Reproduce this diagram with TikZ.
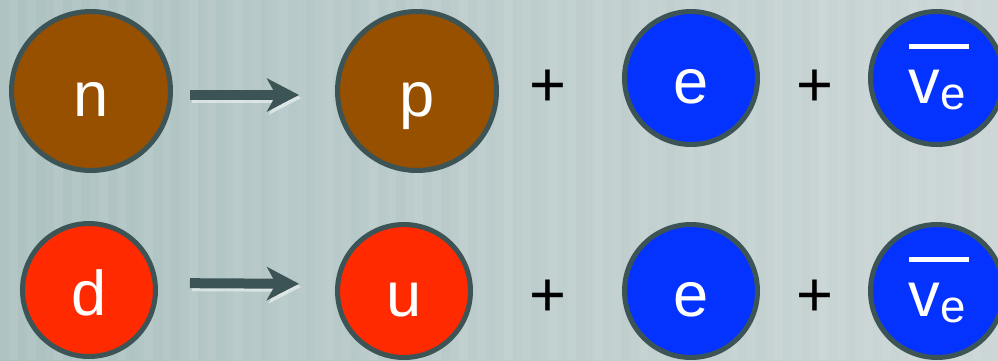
\documentclass[tikz,border=0pt]{standalone}
\usepackage{fontspec}
\setmainfont{Liberation Sans}
\usepackage{tikz}
\usetikzlibrary{calc,arrows.meta}
\usepackage{xcolor}
\definecolor{bgleft}{RGB}{172,193,193}
\definecolor{bgright}{RGB}{204,214,214}
\definecolor{rimgray}{RGB}{61,84,87}
\definecolor{neutronbrown}{RGB}{150,80,0}
\definecolor{quarkred}{RGB}{255,42,0}
\definecolor{leptonblue}{RGB}{4,51,255}

\begin{document}
\begin{tikzpicture}[x=0.02cm, y=-0.02cm,
    ball/.style={circle, draw=rimgray, line width=0.1cm, text=white, inner sep=0pt,
      font=\fontsize{36}{36}\selectfont, text height=1.0cm, text depth=0cm},
    bigball/.style={ball, minimum size=3.18cm},
    smallball/.style={ball, minimum size=2.66cm},
    plus/.style={font=\fontsize{36}{36}\selectfont, text=black, inner sep=0pt},
    reactarrow/.style={draw=rimgray, line width=0.2cm,
      -{Stealth[length=0.64cm, width=0.66cm, inset=0.18cm]}},
    bar/.style={white, line width=0.1cm}]
      \useasboundingbox (0,0) rectangle (998,360);
      % background with faint stripes
      \shade[left color=bgleft, right color=bgright] (0,0) rectangle (998,360);
      \foreach \x [count=\i] in {0,9,...,990} {
        \pgfmathsetmacro\op{mod(\i*7,5)/45}
        \fill[white, opacity=\op] (\x,0) rectangle ++(9,360);
      }
      % beta decay of the neutron
      \node[bigball, fill=neutronbrown] (n) at (91,91) {n};
      \node[bigball, fill=neutronbrown] (p) at (417,91) {p};
      \node[plus] (plus1) at (548,88) {+};
      \node[smallball, fill=leptonblue] (e1) at (691,78) {e};
      \node[plus] (plus2) at (815,88) {+};
      \node[smallball, fill=leptonblue] (nu1) at (937,78)
        {v{\fontsize{26}{26}\selectfont\raisebox{-0.15em}{e}}};
      \draw[bar] ($(nu1.center)+(-28,-32)$) -- ++(60,0);
      \draw[reactarrow, draw=white, opacity=0.5, shorten <=0.38cm, shorten >=0.68cm]
        ([yshift=-0.14cm]n.east) -- ([yshift=-0.14cm]p.west);
      \draw[reactarrow, shorten <=0.34cm, shorten >=0.72cm]
        ([yshift=-0.08cm]n.east) -- ([yshift=-0.08cm]p.west);
      % same thing at quark level
      \node[smallball, fill=quarkred] (d) at (89,290) {d};
      \node[smallball, fill=quarkred] (u) at (404,291) {u};
      \node[plus] (plus3) at (548,298) {+};
      \node[smallball, fill=leptonblue] (e2) at (691,291) {e};
      \node[plus] (plus4) at (815,298) {+};
      \node[smallball, fill=leptonblue] (nu2) at (937,291)
        {v{\fontsize{26}{26}\selectfont\raisebox{-0.15em}{e}}};
      \draw[bar] ($(nu2.center)+(-28,-32)$) -- ++(60,0);
      \draw[reactarrow, draw=white, opacity=0.5, shorten <=0.68cm, shorten >=0.68cm]
        ([yshift=0.08cm]d.east) -- ([yshift=0.08cm]u.west);
      \draw[reactarrow, shorten <=0.64cm, shorten >=0.72cm]
        ([yshift=0.14cm]d.east) -- ([yshift=0.14cm]u.west);
    \end{tikzpicture}
\end{document}
